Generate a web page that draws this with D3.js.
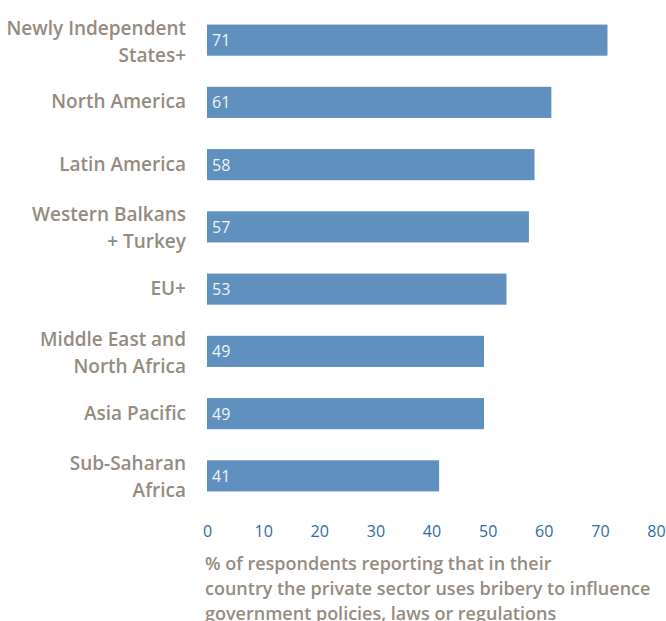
<!DOCTYPE html>
<html><head><meta charset="utf-8">
<script src="https://cdn.jsdelivr.net/npm/d3@7"></script>
<style>body{margin:0;background:#fff}svg{display:block}</style>
</head><body><svg id="c" width="666" height="621"></svg>
<script>
const categories = [["Newly Independent","States+"],["North America"],["Latin America"],["Western Balkans","+ Turkey"],["EU+"],["Middle East and","North Africa"],["Asia Pacific"],["Sub-Saharan","Africa"]];
const values = [71,61,58,57,53,49,49,41];
const ticks = [0,10,20,30,40,50,60,70,80];
const axisTitle = ["% of respondents reporting that in their","country the private sector uses bribery to influence","government policies, laws or regulations"];

const svg = d3.select("#c");
const x = d3.scaleLinear().domain([0,80]).range([207,656]);
const y = d3.scaleBand().domain(d3.range(values.length)).range([9,507]).paddingInner(0.5).paddingOuter(0.25);
const font = "'Open Sans', sans-serif";
const gray = "#948c80";

svg.selectAll("rect.bar").data(values).join("rect")
  .attr("x", x(0)).attr("y",(d,i)=>y(i)).attr("width",d=>x(d)-x(0)+2).attr("height",y.bandwidth())
  .attr("fill","#6090bd");

svg.selectAll("text.val").data(values).join("text")
  .attr("x", x(0)+5).attr("y",(d,i)=>y(i)+y.bandwidth()/2+6)
  .attr("fill","#eef3f8").attr("font-family",font).attr("font-size",16)
  .text(d=>d);

categories.forEach((lines,i)=>{
  const cy = y(i)+y.bandwidth()/2;
  const t = svg.append("text").attr("text-anchor","end").attr("fill",gray)
    .attr("font-family",font).attr("font-size",19).attr("font-weight",600);
  const lh = 27;
  const start = lines.length===1 ? cy+6 : y(i)+10;
  lines.forEach((l,j)=>t.append("tspan").attr("x",186).attr("y",start+j*lh).text(l));
});

const ax = svg.append("g").attr("transform","translate(0,523)")
  .call(d3.axisBottom(x).tickValues(ticks).tickSize(0).tickPadding(0));
ax.select(".domain").remove();
ax.selectAll("text").attr("fill","#2f6aa6").attr("font-family",font).attr("font-size",16).attr("dy","0.9em");

const tt = svg.append("text").attr("fill",gray).attr("font-family",font).attr("font-size",18).attr("font-weight",600);
axisTitle.forEach((l,j)=>tt.append("tspan").attr("x",205).attr("y",570+j*25).text(l));
</script></body></html>
